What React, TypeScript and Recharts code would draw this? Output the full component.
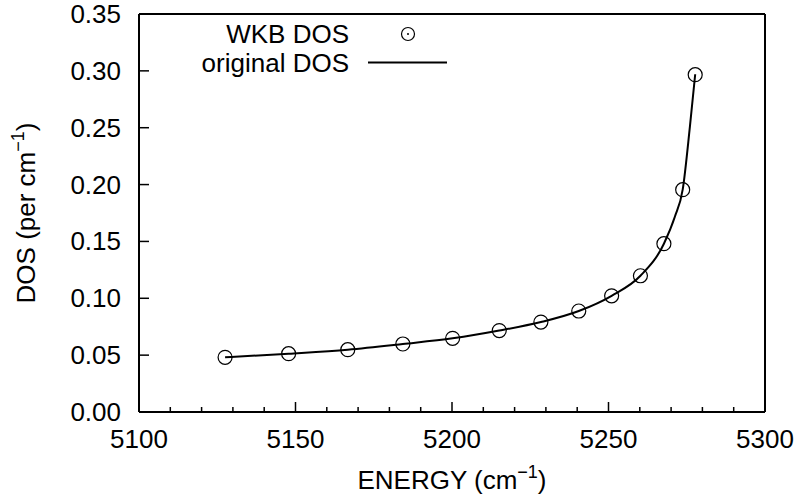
import { ComposedChart, Label, Legend, Line, Scatter, XAxis, YAxis } from "recharts";

// WKB DOS markers
const wkbEnergy = [5127.5, 5147.8, 5166.7, 5184.3, 5200.2, 5215.1, 5228.4, 5240.5, 5251.0, 5260.2, 5267.7, 5273.7, 5277.7];
const wkbDos = [0.0481, 0.0513, 0.0548, 0.0598, 0.0648, 0.0716, 0.0791, 0.0888, 0.1022, 0.1198, 0.148, 0.1955, 0.2966];

// original DOS curve
const lineEnergy = [5127.5, 5147.8, 5166.7, 5184.3, 5200.2, 5215.1, 5228.4, 5240.5, 5251.0, 5260.2, 5267.7, 5271.2, 5273.7, 5276.0, 5277.7];
const lineDos = [0.0481, 0.0513, 0.0548, 0.0598, 0.0648, 0.0716, 0.0791, 0.0888, 0.1022, 0.1198, 0.148, 0.1717, 0.1955, 0.2508, 0.297];

const xTicks = [5100, 5110, 5120, 5130, 5140, 5150, 5160, 5170, 5180, 5190, 5200, 5210, 5220, 5230, 5240, 5250, 5260, 5270, 5280, 5290, 5300];
const yTicks = [0, 0.05, 0.1, 0.15, 0.2, 0.25, 0.3, 0.35];

const wkbData = wkbEnergy.map((energy, i) => ({ energy, dos: wkbDos[i] }));
const lineData = lineEnergy.map((energy, i) => ({ energy, dos: lineDos[i] }));

const FONT = "'Liberation Sans', Arial, Helvetica, sans-serif";

const isMajor = (v: number) => Math.round(v) % 50 === 0;

function BottomTick({ x, y, payload }: any) {
  const major = isMajor(payload.value);
  return (
    <g>
      <line x1={x} x2={x} y1={y} y2={y - (major ? 10 : 5)} stroke="#000" strokeWidth={1.5} />
      {major && (
        <text x={x} y={y + 36} textAnchor="middle" fontSize={26} fontFamily={FONT} fill="#000">
          {payload.value}
        </text>
      )}
    </g>
  );
}

function TopTick({ x, y, payload }: any) {
  const major = isMajor(payload.value);
  return <line x1={x} x2={x} y1={y} y2={y + (major ? 10 : 5)} stroke="#000" strokeWidth={1.5} />;
}

function LeftTick({ x, y, payload }: any) {
  return (
    <g>
      <line x1={x} x2={x + 10} y1={y} y2={y} stroke="#000" strokeWidth={1.5} />
      <text x={x - 18} y={y + 9} textAnchor="end" fontSize={26} fontFamily={FONT} fill="#000">
        {payload.value.toFixed(2)}
      </text>
    </g>
  );
}

function RightTick({ x, y }: any) {
  return <line x1={x} x2={x - 10} y1={y} y2={y} stroke="#000" strokeWidth={1.5} />;
}

function XTitle({ viewBox }: any) {
  const { x, y, width } = viewBox;
  return (
    <text x={x + width / 2} y={y + 77} textAnchor="middle" fontSize={26} fontFamily={FONT} fill="#000">
      ENERGY (cm
      <tspan dy={-11} fontSize={18}>−1</tspan>
      <tspan dy={11}>)</tspan>
    </text>
  );
}

function YTitle({ viewBox }: any) {
  const { x, y, width, height } = viewBox;
  const cx = x + width - 104;
  const cy = y + height / 2;
  return (
    <text x={cx} y={cy} transform={`rotate(-90 ${cx} ${cy})`} textAnchor="middle" fontSize={26} fontFamily={FONT} fill="#000">
      DOS (per cm
      <tspan dy={-11} fontSize={18}>−1</tspan>
      <tspan dy={11}>)</tspan>
    </text>
  );
}

function Ring({ cx, cy }: any) {
  return <circle cx={cx} cy={cy} r={7} fill="none" stroke="#000" strokeWidth={1.2} />;
}

function KeyBox({ payload }: any) {
  return (
    <svg width={800} height={90}>
      {(payload || []).map((entry: any, i: number) => {
        const base = 43 + i * 29;
        return (
          <g key={entry.value}>
            <text x={349} y={base} textAnchor="end" fontSize={26} fontFamily={FONT} fill="#000">
              {entry.value}
            </text>
            {entry.type === "line" ? (
              <line x1={368} x2={447} y1={base - 9.5} y2={base - 9.5} stroke="#000" strokeWidth={2} />
            ) : (
              <g>
                <circle cx={408} cy={base - 9} r={6.5} fill="none" stroke="#000" strokeWidth={1.2} />
                <circle cx={408} cy={base - 9} r={1} fill="#000" />
              </g>
            )}
          </g>
        );
      })}
    </svg>
  );
}

export default function App() {
  return (
    <div style={{ position: "absolute", left: 0, top: 0, width: 800, height: 496, background: "#fff" }}>
      <ComposedChart width={800} height={496} margin={{ top: 4, right: 25, bottom: 54, left: 99 }}>
        <XAxis
          xAxisId="bottom"
          dataKey="energy"
          type="number"
          domain={[5100, 5300]}
          ticks={xTicks}
          interval={0}
          height={30}
          tickSize={0}
          tickMargin={0}
          tickLine={false}
          axisLine={{ stroke: "#000", strokeWidth: 2 }}
          tick={<BottomTick />}
        >
          <Label content={<XTitle />} />
        </XAxis>
        <XAxis
          xAxisId="top"
          orientation="top"
          dataKey="energy"
          type="number"
          domain={[5100, 5300]}
          ticks={xTicks}
          interval={0}
          height={10}
          tickSize={0}
          tickMargin={0}
          tickLine={false}
          axisLine={{ stroke: "#000", strokeWidth: 2 }}
          tick={<TopTick />}
        />
        <YAxis
          yAxisId="left"
          type="number"
          domain={[0, 0.35]}
          ticks={yTicks}
          interval={0}
          width={40}
          tickSize={0}
          tickMargin={0}
          tickLine={false}
          axisLine={{ stroke: "#000", strokeWidth: 2 }}
          tick={<LeftTick />}
        >
          <Label content={<YTitle />} />
        </YAxis>
        <YAxis
          yAxisId="right"
          orientation="right"
          type="number"
          domain={[0, 0.35]}
          ticks={yTicks}
          interval={0}
          width={10}
          tickSize={0}
          tickMargin={0}
          tickLine={false}
          axisLine={{ stroke: "#000", strokeWidth: 2 }}
          tick={<RightTick />}
        />
        <Legend
          layout="horizontal"
          verticalAlign="middle"
          align="center"
          wrapperStyle={{ left: 0, top: 0, width: 800, height: 90 }}
          content={<KeyBox />}
        />
        <Scatter
          name="WKB DOS"
          data={wkbData}
          dataKey="dos"
          xAxisId="bottom"
          yAxisId="left"
          legendType="circle"
          shape={<Ring />}
          isAnimationActive={false}
        />
        <Line
          name="original DOS"
          data={lineData}
          dataKey="dos"
          xAxisId="bottom"
          yAxisId="left"
          type="monotone"
          stroke="#000"
          strokeWidth={2}
          dot={false}
          activeDot={false}
          legendType="line"
          isAnimationActive={false}
        />
      </ComposedChart>
    </div>
  );
}
